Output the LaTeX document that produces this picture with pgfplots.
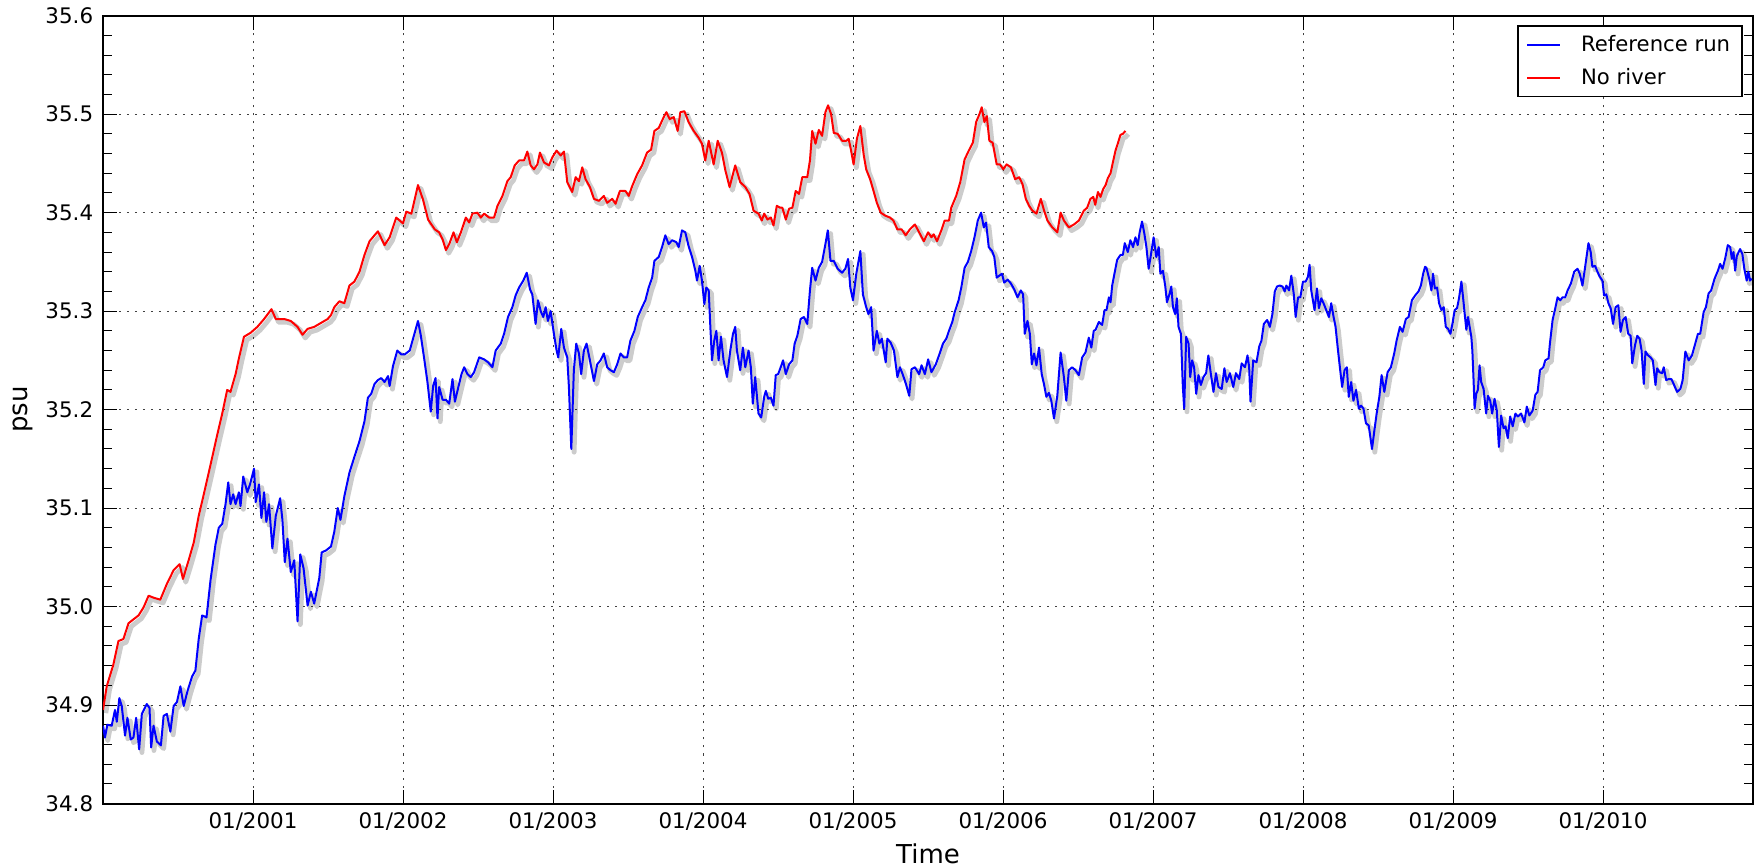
\documentclass[border=0pt]{standalone}
\usepackage{fontspec}
\setmainfont{DejaVu Sans}
\usepackage{pgfplots}
\usepackage{pgfplotstable}
\pgfplotsset{compat=1.18}

% reference run (blue)
\pgfplotstableread{
t v
2000.000 34.879
2000.013 34.867
2000.029 34.880
2000.058 34.879
2000.080 34.895
2000.092 34.883
2000.109 34.907
2000.125 34.899
2000.147 34.869
2000.163 34.887
2000.185 34.865
2000.203 34.867
2000.221 34.887
2000.241 34.855
2000.259 34.891
2000.292 34.901
2000.310 34.897
2000.321 34.857
2000.337 34.879
2000.359 34.863
2000.386 34.859
2000.404 34.889
2000.426 34.891
2000.449 34.873
2000.471 34.899
2000.493 34.903
2000.516 34.919
2000.538 34.899
2000.565 34.915
2000.594 34.929
2000.616 34.935
2000.638 34.967
2000.661 34.991
2000.690 34.989
2000.717 35.027
2000.750 35.063
2000.772 35.080
2000.795 35.084
2000.817 35.104
2000.835 35.126
2000.850 35.104
2000.868 35.114
2000.884 35.104
2000.906 35.116
2000.917 35.102
2000.935 35.132
2000.962 35.116
2000.980 35.124
2001.007 35.140
2001.018 35.106
2001.040 35.124
2001.056 35.090
2001.074 35.116
2001.089 35.086
2001.107 35.104
2001.129 35.059
2001.152 35.092
2001.181 35.110
2001.196 35.088
2001.212 35.045
2001.230 35.069
2001.252 35.035
2001.275 35.047
2001.297 34.985
2001.315 35.053
2001.337 35.039
2001.364 35.001
2001.386 35.015
2001.408 35.003
2001.442 35.029
2001.458 35.055
2001.487 35.057
2001.520 35.061
2001.542 35.076
2001.565 35.100
2001.583 35.088
2001.609 35.112
2001.643 35.136
2001.676 35.152
2001.710 35.168
2001.743 35.188
2001.766 35.212
2001.788 35.216
2001.810 35.226
2001.833 35.230
2001.855 35.232
2001.877 35.228
2001.900 35.234
2001.911 35.224
2001.933 35.244
2001.962 35.260
2001.989 35.256
2002.011 35.256
2002.045 35.260
2002.078 35.278
2002.100 35.290
2002.118 35.276
2002.141 35.252
2002.163 35.228
2002.185 35.198
2002.201 35.224
2002.217 35.232
2002.230 35.191
2002.241 35.223
2002.264 35.210
2002.286 35.210
2002.308 35.206
2002.330 35.231
2002.346 35.208
2002.363 35.219
2002.390 35.236
2002.408 35.243
2002.430 35.236
2002.452 35.233
2002.474 35.238
2002.508 35.253
2002.541 35.251
2002.567 35.248
2002.596 35.243
2002.618 35.260
2002.652 35.267
2002.674 35.277
2002.700 35.294
2002.729 35.304
2002.751 35.316
2002.774 35.324
2002.802 35.331
2002.825 35.339
2002.847 35.322
2002.862 35.317
2002.884 35.287
2002.900 35.311
2002.918 35.300
2002.935 35.294
2002.951 35.304
2002.966 35.290
2002.984 35.300
2003.006 35.277
2003.024 35.260
2003.035 35.253
2003.055 35.282
2003.073 35.263
2003.095 35.253
2003.106 35.223
2003.122 35.160
2003.139 35.240
2003.155 35.267
2003.173 35.257
2003.188 35.236
2003.206 35.260
2003.224 35.267
2003.246 35.250
2003.273 35.229
2003.295 35.246
2003.317 35.250
2003.339 35.257
2003.361 35.243
2003.383 35.240
2003.406 35.238
2003.428 35.246
2003.450 35.257
2003.472 35.253
2003.494 35.253
2003.516 35.270
2003.543 35.280
2003.565 35.294
2003.594 35.304
2003.616 35.311
2003.638 35.324
2003.661 35.334
2003.676 35.351
2003.705 35.355
2003.727 35.365
2003.749 35.377
2003.771 35.368
2003.794 35.372
2003.822 35.370
2003.838 35.365
2003.860 35.382
2003.882 35.380
2003.904 35.366
2003.927 35.355
2003.949 35.341
2003.960 35.331
2003.978 35.346
2003.993 35.331
2004.009 35.307
2004.022 35.324
2004.038 35.321
2004.049 35.284
2004.060 35.250
2004.075 35.270
2004.089 35.280
2004.104 35.250
2004.120 35.274
2004.137 35.250
2004.160 35.233
2004.182 35.260
2004.200 35.277
2004.215 35.284
2004.226 35.260
2004.248 35.240
2004.266 35.263
2004.282 35.243
2004.304 35.260
2004.319 35.243
2004.332 35.206
2004.348 35.233
2004.370 35.196
2004.388 35.192
2004.408 35.213
2004.419 35.219
2004.435 35.211
2004.452 35.212
2004.470 35.204
2004.485 35.235
2004.501 35.236
2004.518 35.243
2004.534 35.250
2004.552 35.236
2004.574 35.246
2004.596 35.250
2004.611 35.267
2004.629 35.275
2004.651 35.292
2004.673 35.294
2004.695 35.287
2004.713 35.321
2004.728 35.344
2004.750 35.331
2004.772 35.344
2004.794 35.350
2004.816 35.368
2004.832 35.382
2004.850 35.351
2004.872 35.351
2004.898 35.343
2004.927 35.339
2004.949 35.343
2004.967 35.353
2004.982 35.324
2005.000 35.311
2005.022 35.338
2005.049 35.361
2005.066 35.317
2005.088 35.304
2005.103 35.297
2005.121 35.304
2005.137 35.260
2005.159 35.280
2005.176 35.267
2005.192 35.272
2005.218 35.248
2005.229 35.272
2005.251 35.268
2005.273 35.260
2005.296 35.233
2005.313 35.243
2005.331 35.236
2005.353 35.226
2005.375 35.214
2005.390 35.241
2005.413 35.243
2005.441 35.236
2005.457 35.245
2005.479 35.236
2005.501 35.251
2005.523 35.238
2005.552 35.246
2005.578 35.257
2005.600 35.267
2005.622 35.272
2005.640 35.280
2005.662 35.289
2005.678 35.299
2005.704 35.311
2005.722 35.324
2005.744 35.344
2005.766 35.350
2005.788 35.361
2005.810 35.375
2005.832 35.392
2005.854 35.400
2005.872 35.385
2005.887 35.390
2005.905 35.365
2005.927 35.361
2005.942 35.355
2005.958 35.334
2005.975 35.336
2005.993 35.338
2006.008 35.329
2006.031 35.332
2006.053 35.328
2006.075 35.322
2006.097 35.314
2006.119 35.321
2006.134 35.317
2006.145 35.277
2006.163 35.290
2006.179 35.277
2006.192 35.246
2006.207 35.257
2006.223 35.245
2006.240 35.263
2006.258 35.236
2006.273 35.226
2006.289 35.213
2006.306 35.217
2006.322 35.209
2006.340 35.191
2006.362 35.214
2006.384 35.258
2006.406 35.233
2006.422 35.209
2006.439 35.240
2006.461 35.243
2006.483 35.240
2006.506 35.235
2006.528 35.253
2006.550 35.258
2006.572 35.273
2006.589 35.263
2006.605 35.280
2006.617 35.281
2006.639 35.289
2006.661 35.286
2006.677 35.301
2006.690 35.301
2006.706 35.314
2006.717 35.309
2006.728 35.326
2006.743 35.338
2006.761 35.352
2006.783 35.357
2006.799 35.357
2006.812 35.369
2006.832 35.360
2006.849 35.372
2006.867 35.365
2006.883 35.375
2006.898 35.367
2006.911 35.380
2006.927 35.391
2006.942 35.379
2006.956 35.365
2006.971 35.343
2006.987 35.358
2007.004 35.375
2007.022 35.355
2007.038 35.365
2007.049 35.338
2007.066 35.341
2007.082 35.325
2007.093 35.309
2007.111 35.318
2007.122 35.325
2007.133 35.304
2007.148 35.297
2007.159 35.313
2007.170 35.284
2007.186 35.277
2007.199 35.223
2007.208 35.201
2007.221 35.274
2007.237 35.267
2007.248 35.233
2007.261 35.250
2007.274 35.243
2007.288 35.216
2007.303 35.235
2007.319 35.225
2007.336 35.233
2007.354 35.237
2007.369 35.255
2007.385 35.237
2007.403 35.218
2007.420 35.237
2007.436 35.223
2007.458 35.221
2007.476 35.242
2007.491 35.228
2007.513 35.237
2007.535 35.223
2007.553 35.237
2007.575 35.231
2007.591 35.247
2007.613 35.243
2007.630 35.255
2007.641 35.243
2007.650 35.208
2007.668 35.250
2007.690 35.248
2007.708 35.264
2007.723 35.270
2007.739 35.287
2007.761 35.291
2007.779 35.284
2007.796 35.297
2007.812 35.320
2007.827 35.325
2007.845 35.326
2007.863 35.325
2007.878 35.320
2007.889 35.326
2007.907 35.321
2007.922 35.336
2007.938 35.318
2007.951 35.294
2007.967 35.314
2007.982 35.314
2008.000 35.330
2008.018 35.330
2008.033 35.335
2008.044 35.347
2008.055 35.321
2008.066 35.311
2008.077 35.301
2008.093 35.323
2008.106 35.303
2008.122 35.313
2008.137 35.308
2008.155 35.301
2008.173 35.294
2008.188 35.308
2008.204 35.294
2008.217 35.284
2008.232 35.262
2008.248 35.240
2008.261 35.223
2008.277 35.240
2008.292 35.243
2008.305 35.213
2008.321 35.228
2008.336 35.209
2008.354 35.220
2008.372 35.201
2008.387 35.204
2008.403 35.201
2008.420 35.186
2008.438 35.184
2008.460 35.160
2008.476 35.179
2008.491 35.196
2008.509 35.213
2008.524 35.235
2008.542 35.218
2008.564 35.238
2008.586 35.243
2008.608 35.257
2008.624 35.270
2008.646 35.284
2008.664 35.279
2008.686 35.292
2008.704 35.294
2008.726 35.311
2008.748 35.316
2008.770 35.320
2008.786 35.326
2008.801 35.338
2008.814 35.345
2008.823 35.344
2008.841 35.333
2008.856 35.321
2008.867 35.338
2008.879 35.323
2008.894 35.324
2008.907 35.308
2008.923 35.301
2008.938 35.304
2008.952 35.284
2008.967 35.282
2008.983 35.277
2008.996 35.287
2009.011 35.301
2009.027 35.303
2009.040 35.313
2009.056 35.330
2009.067 35.314
2009.078 35.297
2009.089 35.281
2009.100 35.294
2009.111 35.284
2009.122 35.274
2009.129 35.260
2009.137 35.230
2009.144 35.201
2009.155 35.216
2009.166 35.220
2009.177 35.245
2009.188 35.228
2009.204 35.221
2009.221 35.196
2009.233 35.214
2009.248 35.209
2009.261 35.196
2009.277 35.211
2009.292 35.199
2009.306 35.162
2009.321 35.194
2009.337 35.181
2009.350 35.183
2009.365 35.171
2009.381 35.193
2009.398 35.183
2009.416 35.196
2009.432 35.193
2009.454 35.196
2009.476 35.187
2009.492 35.203
2009.509 35.194
2009.531 35.199
2009.549 35.215
2009.564 35.218
2009.580 35.240
2009.602 35.243
2009.615 35.250
2009.637 35.252
2009.646 35.267
2009.664 35.291
2009.682 35.303
2009.697 35.314
2009.715 35.311
2009.730 35.314
2009.748 35.314
2009.764 35.321
2009.786 35.328
2009.808 35.340
2009.830 35.343
2009.845 35.338
2009.863 35.326
2009.881 35.345
2009.903 35.369
2009.918 35.360
2009.929 35.345
2009.947 35.346
2009.963 35.340
2009.978 35.335
2009.996 35.331
2010.007 35.316
2010.022 35.317
2010.036 35.308
2010.051 35.303
2010.067 35.287
2010.084 35.304
2010.102 35.306
2010.117 35.279
2010.133 35.291
2010.151 35.294
2010.168 35.277
2010.184 35.275
2010.195 35.247
2010.213 35.265
2010.228 35.275
2010.244 35.272
2010.257 35.260
2010.272 35.226
2010.283 35.259
2010.301 35.255
2010.317 35.253
2010.332 35.250
2010.350 35.225
2010.361 35.242
2010.376 35.238
2010.394 35.237
2010.405 35.243
2010.421 35.230
2010.438 35.231
2010.456 35.231
2010.471 35.226
2010.494 35.218
2010.516 35.221
2010.531 35.230
2010.549 35.259
2010.571 35.250
2010.593 35.255
2010.615 35.267
2010.633 35.277
2010.648 35.277
2010.671 35.299
2010.686 35.304
2010.704 35.318
2010.721 35.321
2010.744 35.333
2010.766 35.341
2010.781 35.348
2010.797 35.343
2010.814 35.353
2010.832 35.367
2010.848 35.365
2010.859 35.353
2010.870 35.360
2010.881 35.341
2010.892 35.356
2010.914 35.363
2010.929 35.358
2010.942 35.343
2010.958 35.331
2010.969 35.340
2010.980 35.331
2010.991 35.333
}\refrun

% no river (red)
\pgfplotstableread{
t v
2000.000 34.895
2000.025 34.919
2000.069 34.941
2000.103 34.965
2000.136 34.967
2000.170 34.983
2000.203 34.987
2000.237 34.991
2000.270 34.999
2000.304 35.011
2000.337 35.009
2000.382 35.007
2000.426 35.023
2000.471 35.037
2000.511 35.043
2000.533 35.028
2000.571 35.047
2000.605 35.065
2000.638 35.092
2000.672 35.114
2000.717 35.144
2000.761 35.174
2000.795 35.196
2000.828 35.220
2000.850 35.218
2000.884 35.236
2000.906 35.252
2000.940 35.274
2000.984 35.278
2001.029 35.284
2001.074 35.292
2001.123 35.302
2001.152 35.292
2001.208 35.292
2001.252 35.290
2001.297 35.284
2001.330 35.276
2001.364 35.282
2001.408 35.284
2001.453 35.288
2001.498 35.292
2001.520 35.296
2001.542 35.304
2001.576 35.310
2001.609 35.308
2001.643 35.326
2001.676 35.330
2001.710 35.340
2001.743 35.357
2001.777 35.371
2001.810 35.377
2001.833 35.381
2001.877 35.367
2001.911 35.375
2001.955 35.395
2002.000 35.389
2002.022 35.401
2002.056 35.399
2002.100 35.428
2002.134 35.413
2002.167 35.393
2002.212 35.383
2002.241 35.380
2002.264 35.373
2002.286 35.362
2002.308 35.368
2002.337 35.380
2002.359 35.370
2002.386 35.380
2002.419 35.395
2002.441 35.390
2002.463 35.399
2002.496 35.400
2002.519 35.395
2002.541 35.399
2002.574 35.395
2002.607 35.395
2002.630 35.407
2002.663 35.417
2002.696 35.432
2002.718 35.436
2002.745 35.448
2002.774 35.453
2002.807 35.453
2002.829 35.462
2002.851 35.448
2002.873 35.444
2002.896 35.449
2002.913 35.461
2002.940 35.451
2002.973 35.448
2002.995 35.456
2003.024 35.463
2003.051 35.458
2003.073 35.462
2003.095 35.431
2003.128 35.421
2003.151 35.436
2003.173 35.432
2003.195 35.446
2003.217 35.434
2003.246 35.426
2003.273 35.414
2003.306 35.412
2003.339 35.417
2003.361 35.410
2003.395 35.414
2003.417 35.409
2003.446 35.422
2003.483 35.422
2003.505 35.417
2003.528 35.427
2003.561 35.439
2003.594 35.448
2003.627 35.461
2003.654 35.464
2003.676 35.483
2003.705 35.486
2003.738 35.497
2003.756 35.502
2003.778 35.495
2003.805 35.497
2003.831 35.483
2003.849 35.502
2003.876 35.503
2003.904 35.492
2003.938 35.483
2003.971 35.476
2003.993 35.470
2004.015 35.453
2004.038 35.473
2004.071 35.449
2004.098 35.473
2004.126 35.461
2004.149 35.443
2004.177 35.426
2004.215 35.448
2004.248 35.431
2004.282 35.426
2004.310 35.419
2004.337 35.402
2004.370 35.399
2004.392 35.392
2004.408 35.399
2004.430 35.393
2004.452 35.395
2004.470 35.387
2004.492 35.407
2004.514 35.405
2004.529 35.405
2004.552 35.393
2004.574 35.404
2004.596 35.405
2004.618 35.422
2004.640 35.419
2004.662 35.436
2004.695 35.436
2004.713 35.453
2004.728 35.483
2004.750 35.470
2004.772 35.484
2004.794 35.478
2004.816 35.502
2004.834 35.509
2004.854 35.500
2004.872 35.481
2004.898 35.480
2004.927 35.473
2004.956 35.473
2004.971 35.475
2004.986 35.464
2005.004 35.449
2005.026 35.475
2005.049 35.488
2005.071 35.459
2005.088 35.444
2005.114 35.434
2005.137 35.422
2005.159 35.410
2005.185 35.400
2005.214 35.397
2005.247 35.395
2005.269 35.392
2005.296 35.383
2005.324 35.383
2005.351 35.377
2005.379 35.383
2005.413 35.388
2005.441 35.380
2005.472 35.371
2005.501 35.380
2005.523 35.375
2005.538 35.378
2005.560 35.371
2005.589 35.382
2005.611 35.392
2005.640 35.392
2005.655 35.405
2005.688 35.417
2005.715 35.431
2005.744 35.454
2005.772 35.463
2005.799 35.471
2005.821 35.492
2005.843 35.500
2005.858 35.507
2005.876 35.492
2005.892 35.498
2005.909 35.473
2005.931 35.471
2005.958 35.449
2005.980 35.449
2006.002 35.444
2006.024 35.449
2006.053 35.446
2006.081 35.434
2006.108 35.436
2006.130 35.429
2006.152 35.414
2006.174 35.407
2006.196 35.402
2006.223 35.399
2006.252 35.414
2006.274 35.402
2006.296 35.392
2006.329 35.385
2006.362 35.380
2006.384 35.400
2006.406 35.392
2006.439 35.385
2006.473 35.388
2006.506 35.392
2006.539 35.402
2006.561 35.405
2006.583 35.414
2006.602 35.416
2006.615 35.408
2006.633 35.421
2006.650 35.416
2006.668 35.424
2006.684 35.428
2006.699 35.435
2006.717 35.440
2006.734 35.452
2006.750 35.463
2006.765 35.470
2006.783 35.479
2006.799 35.480
2006.816 35.483
}\noriver

\begin{document}
\begin{tikzpicture}
\begin{axis}[
    name=ax,
    at={(0,0)}, anchor=south west,
    scale only axis,
    width=825pt, height=393.9pt,
    xmin=2000, xmax=2011,
    ymin=34.8, ymax=35.6,
    xtick={2001,2002,2003,2004,2005,2006,2007,2008,2009,2010},
    xticklabels={01/2001,01/2002,01/2003,01/2004,01/2005,01/2006,01/2007,01/2008,01/2009,01/2010},
    ytick={34.8,34.9,35.0,35.1,35.2,35.3,35.4,35.5,35.6},
    minor y tick num=4,
    tick align=inside,
    major tick length=7pt,
    minor tick length=4.5pt,
    every tick/.style={black, line width=0.5pt},
    axis line style={line width=1pt},
    grid=major,
    major grid style={black!75, line width=0.5pt, dash pattern=on 1pt off 3pt},
    tick label style={font=\fontsize{10.7}{12.8}\selectfont},
    yticklabel style={/pgf/number format/fixed, /pgf/number format/fixed zerofill,
                      /pgf/number format/precision=1,
                      /pgf/number format/assume math mode=true, xshift=-1.4pt},
    xticklabel style={yshift=-1pt},
    title={Average salinity over the domain},
    title style={at={(axis description cs:0.5,1)}, anchor=base, yshift=5.35pt,
                 font=\fontsize{13.3}{16}\selectfont},
    xlabel={Time},
    ylabel={psu},
    label style={font=\fontsize{13}{15.6}\selectfont},
    xlabel style={at={(axis description cs:0.5,-0.0641)}, anchor=center},
    ylabel style={at={(axis description cs:-0.0488,0.5)}, anchor=center},
    legend style={at={(1,1)}, anchor=north east, xshift=-5pt, yshift=-4.9pt,
                  draw=black, line width=0.8pt, inner xsep=4pt, inner ysep=2.5pt,
                  font=\fontsize{10.6}{12.7}\selectfont,
                  row sep=3pt, column sep=8pt, nodes={inner sep=2pt}},
    legend cell align=left,
    legend image code/.code={\draw[#1] (0pt,0pt) -- (16.5pt,0pt);},
]
% soft shadows under the lines
\addplot[forget plot, black, opacity=0.2, line width=2.4pt, line join=round,
         shift={(1.4pt,-1.6pt)}] table[x=t, y=v] {\refrun};
\addplot[blue, line width=1pt, line join=round] table[x=t, y=v] {\refrun};
\addlegendentry{Reference run}

\addplot[forget plot, black, opacity=0.2, line width=2.4pt, line join=round,
         shift={(1.4pt,-1.6pt)}] table[x=t, y=v] {\noriver};
\addplot[red, line width=1pt, line join=round] table[x=t, y=v] {\noriver};
\addlegendentry{No river}
\end{axis}
\pgfresetboundingbox
\path[use as bounding box] (ax.south west) ++(-51.5pt,-31.75pt) rectangle ++(881pt,433.5pt);
\end{tikzpicture}
\end{document}
